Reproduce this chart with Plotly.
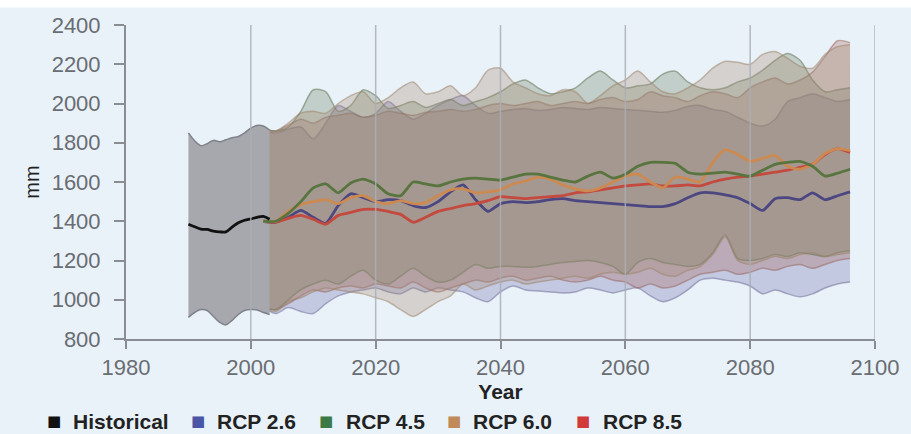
import plotly.graph_objects as go

# ---- data -------------------------------------------------------------
hist_years = list(range(1990, 2004))
hist_median = [1385, 1372, 1360, 1358, 1350, 1346, 1346, 1370, 1392, 1405, 1412, 1420, 1425, 1410]
hist_upper = [1850, 1810, 1785, 1795, 1812, 1805, 1815, 1825, 1832, 1850, 1875, 1888, 1885, 1865]
hist_lower = [910, 935, 950, 945, 915, 885, 872, 895, 925, 945, 950, 948, 935, 925]

proj_years = list(range(2002, 2097, 2))

rcp26_median = [1400, 1395, 1420, 1455, 1420, 1390, 1480, 1540, 1520, 1500,
                1510, 1505, 1480, 1470, 1500, 1550, 1585, 1510, 1450, 1490,
                1500, 1495, 1500, 1510, 1515, 1505, 1500, 1495, 1490, 1485,
                1480, 1475, 1475, 1490, 1520, 1545, 1545, 1535, 1520, 1490,
                1455, 1515, 1520, 1510, 1545, 1510, 1530, 1550]
rcp26_upper = [1860, 1850, 1870, 1880, 1820, 1900, 1990, 1960, 1930, 1950,
               2010, 1960, 1920, 1950, 1990, 2020, 2040, 1990, 1950, 1960,
               1970, 1975, 1965, 1970, 1980, 1975, 1970, 1980, 1975, 1970,
               1965, 1960, 1955, 1965, 1985, 1990, 1970, 1960, 1930, 1900,
               1885, 1920, 2010, 2030, 2050, 2030, 2010, 2020]
rcp26_lower = [960, 930, 960, 940, 930, 980, 1020, 1040, 1050, 1060,
               1040, 1030, 1060, 1040, 1060, 1050, 1040, 1010, 990, 1040,
               1070, 1050, 1045, 1040, 1035, 1040, 1060, 1050, 1035, 1050,
               1060, 1020, 990, 1010, 1050, 1100, 1110, 1100, 1090, 1070,
               1030, 1050, 1030, 1015, 1030, 1060, 1080, 1090]

rcp45_median = [1400, 1400, 1440, 1500, 1570, 1590, 1545, 1595, 1615, 1590,
                1540, 1530, 1600, 1590, 1580, 1600, 1615, 1620, 1615, 1610,
                1625, 1640, 1640, 1625, 1610, 1600, 1630, 1650, 1620, 1640,
                1680, 1700, 1700, 1695, 1650, 1640, 1645, 1650, 1640, 1630,
                1660, 1690, 1700, 1705, 1680, 1630, 1645, 1665]
rcp45_upper = [1870, 1860, 1880, 1960, 2070, 2060, 1960, 1990, 2070, 2040,
               1975, 1990, 2010, 1980, 2000, 2020, 1990, 2010, 2030, 2060,
               2100, 2120, 2080, 2050, 2060, 2080, 2130, 2165, 2120, 2080,
               2090, 2100, 2150, 2165, 2110, 2080, 2070, 2080, 2110, 2130,
               2170, 2220, 2255, 2220, 2120, 2060, 2070, 2080]
rcp45_lower = [960, 950, 1000, 1050, 1080, 1100, 1080, 1120, 1150, 1100,
               1080, 1120, 1160, 1120, 1090, 1100, 1140, 1180, 1160, 1170,
               1170, 1165, 1170, 1180, 1190, 1195, 1200, 1190, 1170, 1130,
               1190, 1210, 1190, 1180, 1170, 1180, 1240, 1330, 1210, 1200,
               1210, 1230, 1220, 1240, 1230, 1220, 1240, 1250]

rcp60_median = [1400, 1400, 1450, 1485, 1500, 1510, 1490, 1520, 1530, 1500,
                1490, 1505, 1490, 1495, 1530, 1560, 1565, 1545, 1550, 1560,
                1590, 1605, 1625, 1615, 1585, 1565, 1555, 1570, 1600, 1630,
                1640, 1600, 1570, 1625, 1615, 1600, 1700, 1765, 1740, 1705,
                1720, 1735, 1680, 1665, 1690, 1745, 1770, 1760]
rcp60_upper = [1870, 1860, 1900, 1950, 1960, 1950, 2000, 2040, 2060, 2000,
               2030, 2080, 2110, 2050, 2060, 2090, 2040, 2080, 2170, 2180,
               2110, 2080, 2050, 2040, 2070, 2060, 2000, 2040, 2090, 2120,
               2165, 2110, 2060, 2050, 2080, 2120, 2180, 2215, 2210, 2200,
               2250, 2265, 2230, 2190, 2180, 2250, 2290, 2300]
rcp60_lower = [960, 940, 990, 1010, 1040, 1060, 1050, 1040, 1030, 1010,
               990, 950, 915, 950, 990, 1020, 1080, 1050, 1070, 1090,
               1100, 1080, 1090, 1100, 1110, 1120, 1110, 1130, 1140, 1130,
               1140, 1160, 1130, 1120, 1150, 1170, 1230, 1320, 1200, 1180,
               1200, 1220, 1210, 1230, 1240, 1220, 1230, 1240]

rcp85_median = [1400, 1395, 1415, 1430, 1410, 1385, 1430, 1445, 1460, 1460,
                1450, 1435, 1395, 1420, 1450, 1465, 1480, 1490, 1505, 1525,
                1520, 1515, 1520, 1525, 1530, 1545, 1550, 1560, 1570, 1580,
                1585, 1590, 1580, 1580, 1585, 1580, 1600, 1615, 1625, 1630,
                1640, 1650, 1660, 1675, 1690, 1740, 1770, 1750]
rcp85_upper = [1870, 1860, 1890, 1920, 1900, 1930, 1940, 1950, 1930, 1940,
               1960, 1950, 1940, 1955, 1960, 1970, 1960, 1970, 1990, 2000,
               1990, 2000, 2010, 1990, 2000, 2010, 2000, 2020, 2030, 2010,
               2020, 2060, 2040, 2030, 2010, 2040, 2060, 2050, 2030, 2080,
               2110, 2130, 2100, 2120, 2160, 2240, 2320, 2310]
rcp85_lower = [960, 950, 980, 1020, 1050, 1040, 1060, 1070, 1060, 1080,
               1070, 1060, 1090, 1060, 1040, 1060, 1080, 1100, 1090, 1110,
               1120, 1100, 1110, 1120, 1100, 1090, 1100, 1120, 1100, 1090,
               1060, 1080, 1060, 1070, 1100, 1130, 1140, 1150, 1130, 1140,
               1160, 1150, 1170, 1180, 1160, 1180, 1200, 1210]

legend_labels = ["Historical", "RCP 2.6", "RCP 4.5", "RCP 6.0", "RCP 8.5"]
x_ticks = list(range(1980, 2101, 20))
y_ticks = list(range(800, 2401, 200))
y_range = [800, 2400]

# ---- styling ----------------------------------------------------------
BG = "#e9f2f9"
AXIS = "#8a8d91"
TICK_TXT = "#6a6d72"
FONT = "Liberation Sans, Arial, sans-serif"

# label -> (median, upper, lower, fill, edge, line)
scenarios = {
    "RCP 2.6": (rcp26_median, rcp26_upper, rcp26_lower,
                "rgba(115,115,172,0.32)", "rgba(105,102,145,0.5)", "#4c4780"),
    "RCP 8.5": (rcp85_median, rcp85_upper, rcp85_lower,
                "rgba(172,108,100,0.32)", "rgba(150,98,92,0.5)", "#c4493e"),
    "RCP 4.5": (rcp45_median, rcp45_upper, rcp45_lower,
                "rgba(112,130,98,0.32)", "rgba(100,118,88,0.55)", "#58743f"),
    "RCP 6.0": (rcp60_median, rcp60_upper, rcp60_lower,
                "rgba(168,140,118,0.32)", "rgba(155,128,100,0.5)", "#cc8a52"),
}
legend_colors = ["#111111", "#4b55a6", "#3b7a47", "#c08a5a", "#d23a3a"]

fig = go.Figure()

# projection ranges
for label in ["RCP 2.6", "RCP 8.5", "RCP 4.5", "RCP 6.0"]:
    med, up, lo, fill, edge, line = scenarios[label]
    fig.add_trace(go.Scatter(x=proj_years, y=up, mode="lines",
                             line=dict(color=edge, width=1.5, shape="spline", smoothing=0.8),
                             showlegend=False, hoverinfo="skip"))
    fig.add_trace(go.Scatter(x=proj_years, y=lo, mode="lines", fill="tonexty",
                             fillcolor=fill,
                             line=dict(color=edge, width=1.5, shape="spline", smoothing=0.8),
                             showlegend=False, hoverinfo="skip"))

# historical range
fig.add_trace(go.Scatter(x=hist_years, y=hist_upper, mode="lines",
                         line=dict(color="#7f8288", width=1.5, shape="spline"),
                         showlegend=False, hoverinfo="skip"))
fig.add_trace(go.Scatter(x=hist_years, y=hist_lower, mode="lines", fill="tonexty",
                         fillcolor="#a6a8ae",
                         line=dict(color="#7f8288", width=1.5, shape="spline"),
                         showlegend=False, hoverinfo="skip"))

# projection medians
for label in ["RCP 2.6", "RCP 8.5", "RCP 6.0", "RCP 4.5"]:
    med, up, lo, fill, edge, line = scenarios[label]
    fig.add_trace(go.Scatter(x=proj_years, y=med, mode="lines",
                             line=dict(color=line, width=2.8, shape="spline", smoothing=0.6),
                             name=label, showlegend=False))

# historical median, on the overlaid label axis (same range)
fig.add_trace(go.Scatter(x=hist_years, y=hist_median, mode="lines", yaxis="y2",
                         line=dict(color="#111111", width=2.8, shape="spline"),
                         name="Historical", showlegend=False))

# vertical grid drawn over the ranges
shapes = [dict(type="line", xref="x", yref="y", x0=t, x1=t, y0=y_range[0], y1=y_range[1],
               line=dict(color="rgba(170,175,182,0.85)", width=1.5), layer="above")
          for t in x_ticks[1:]]
# white strip along the top edge
shapes.append(dict(type="rect", xref="paper", yref="paper", x0=-0.2, x1=1.1,
                   y0=1.056, y1=1.2, fillcolor="white", line=dict(width=0), layer="below"))

# legend row
W = 754.0
H = 314.0
LEG_Y = -(421 - 339) / H
sq_x = [54, 198, 327, 456, 586]
tx_x = [71, 216, 345, 473, 604]
annotations = []
for lab, col, sx, tx in zip(legend_labels, legend_colors, sq_x, tx_x):
    annotations.append(dict(xref="paper", yref="paper", x=(sx - 126) / W, y=LEG_Y,
                            text="■", showarrow=False, xanchor="center", yanchor="middle",
                            font=dict(size=15, color=col, family="DejaVu Sans")))
    annotations.append(dict(xref="paper", yref="paper", x=(tx - 126) / W, y=LEG_Y,
                            text="<b>" + lab + "</b>", showarrow=False, xanchor="left",
                            yanchor="middle", font=dict(size=21, color="#222222", family=FONT)))

fig.update_layout(
    width=911, height=434,
    margin=dict(l=126, r=31, t=25, b=95),
    paper_bgcolor=BG, plot_bgcolor=BG,
    showlegend=False,
    shapes=shapes,
    annotations=annotations,
    font=dict(family=FONT),
    xaxis=dict(range=[1980, 2100], tickvals=x_ticks, ticks="outside", ticklen=8,
               tickwidth=2, tickcolor=AXIS, showline=True, linecolor=AXIS, linewidth=2,
               showgrid=False, zeroline=False,
               tickfont=dict(size=22, color=TICK_TXT, family=FONT),
               title=dict(text="<b>Year</b>", font=dict(size=21, color="#222222", family=FONT),
                          standoff=4)),
    # main y axis: line and short tick marks
    yaxis=dict(range=y_range, tickvals=y_ticks, ticks="outside", ticklen=10,
               tickwidth=2, tickcolor=AXIS, showline=True, linecolor=AXIS, linewidth=2,
               showgrid=False, zeroline=False, showticklabels=False),
    # overlaid y axis carrying the tick labels a little further out
    yaxis2=dict(range=y_range, tickvals=y_ticks, overlaying="y", side="left",
                ticks="outside", ticklen=20, tickcolor="rgba(0,0,0,0)",
                showline=False, showgrid=False, zeroline=False,
                tickfont=dict(size=22, color=TICK_TXT, family=FONT),
                title=dict(text="mm", font=dict(size=20, color="#222222", family=FONT),
                           standoff=6)),
)

fig.write_html("out.html")
